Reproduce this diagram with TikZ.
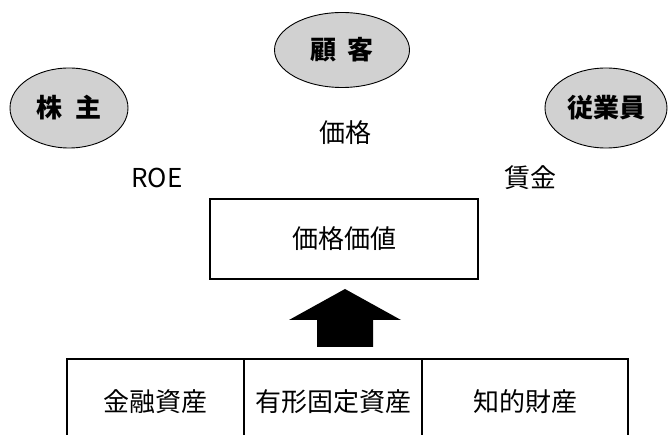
\documentclass[tikz,border=0pt]{standalone}
\usepackage{fontspec}
\setmainfont{Noto Sans CJK JP}
\usetikzlibrary{shapes.geometric}
\begin{document}
\begin{tikzpicture}[x=1pt,y=-1pt,
  every node/.style={font=\fontsize{26}{31}\selectfont, inner sep=0pt},
  party/.style={ellipse, draw, line width=0.9pt, fill=black!18, font=\fontsize{26}{31}\selectfont\bfseries},
  label/.style={},
  valuebox/.style={draw, line width=1.3pt, fill=white},
  tab/.style={line width=1.3pt},
  blockarrow/.style={fill=black}]
\useasboundingbox (0,0) rectangle (670,435);
% parties
\node[party, minimum width=118pt, minimum height=80pt] (kabu) at (69,108) {株\hspace{0.5em}主};
\node[party, minimum width=135pt, minimum height=75pt] (kokyaku) at (342,50) {顧\hspace{0.4em}客};
\node[party, minimum width=122pt, minimum height=80pt] (jugyoin) at (606,108) {従業員};
% labels
\node[label] (kakaku) at (345,133) {価格};
\node[label] (roe) at (157,178) {ROE};
\node[label] (chingin) at (530,178) {賃金};
% value box
\node[valuebox, minimum width=268pt, minimum height=80pt] (value) at (344,239) {価格価値};
% block arrow
\coordinate (tip) at (345,289);
\fill[blockarrow] (tip) -- (401,320) -- (373,320) -- (373,347) -- (317,347) -- (317,320) -- (289,320) -- cycle;
% table
\coordinate (tl) at (67,359);
\coordinate (tr) at (628,359);
\coordinate (d1) at (244,359);
\coordinate (d2) at (422,359);
\draw[tab] (67,435) -- (tl) -- (tr) -- (628,435);
\draw[tab] (d1) -- (244,435);
\draw[tab] (d2) -- (422,435);
\node (kinyu) at (155,402) {金融資産};
\node (yukei) at (333,402) {有形固定資産};
\node (chiteki) at (525,402) {知的財産};
\end{tikzpicture}
\end{document}
